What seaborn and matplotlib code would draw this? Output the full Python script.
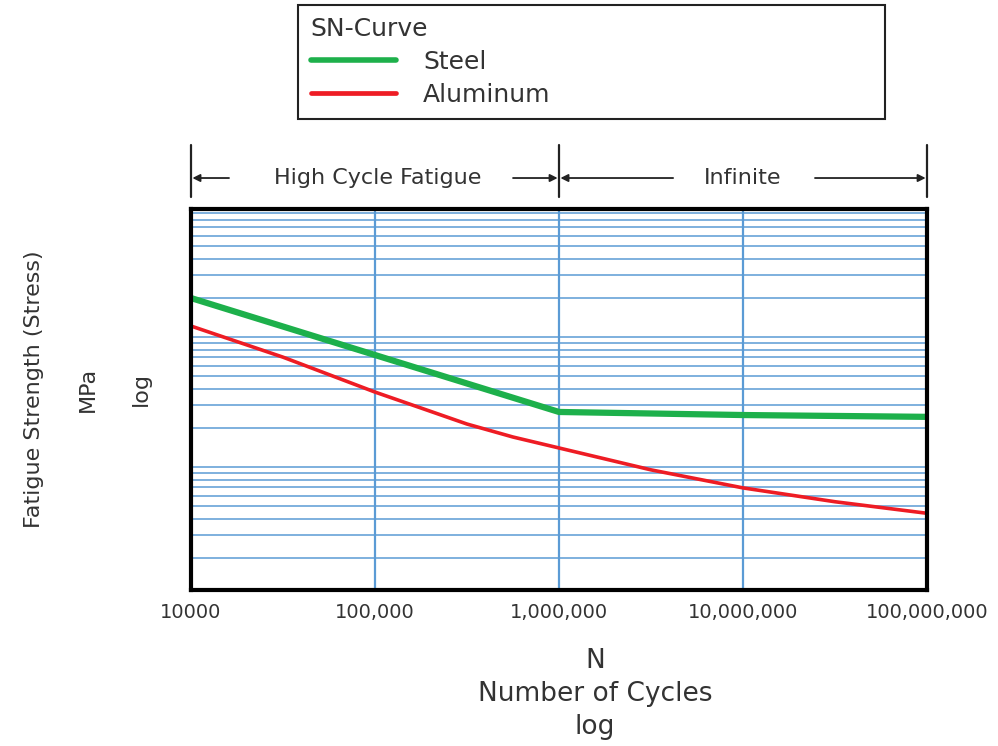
import numpy as np
import pandas as pd
import matplotlib
matplotlib.use('Agg')
import matplotlib.pyplot as plt
from matplotlib import font_manager
from matplotlib.lines import Line2D
from matplotlib.ticker import LogLocator, NullFormatter, FixedLocator, NullLocator
import seaborn as sns

# ---------------- data ----------------
steel_cycles = [1e4, 1e5, 1e6, 1e7, 1e8]
steel_stress = [1995, 727, 265, 251, 243]
alu_cycles = [1e4, 3.16e4, 1e5, 1.78e5, 3.16e5, 5.62e5, 1e6, 3.16e6, 1e7, 3.16e7, 1e8]
alu_stress = [1215, 700, 377, 284, 214, 170, 140, 95, 69, 54, 44]
materials = ['Steel', 'Aluminum']
x_ticks = [1e4, 1e5, 1e6, 1e7, 1e8]
x_tick_labels = ['10000', '100,000', '1,000,000', '10,000,000', '100,000,000']
regions = ['High Cycle Fatigue', 'Infinite']
region_bounds = [1e4, 1e6, 1e8]
legend_title = 'SN-Curve'
x_label_lines = ['N', 'Number of Cycles', 'log']
y_label_lines = ['Fatigue Strength (Stress)', 'MPa', 'log']

df = pd.concat([
    pd.DataFrame({'N': steel_cycles, 'S': steel_stress, 'Material': 'Steel'}),
    pd.DataFrame({'N': alu_cycles, 'S': alu_stress, 'Material': 'Aluminum'}),
], ignore_index=True)

sns.set_style('white')
plt.rcParams['font.family'] = ['DejaVu Sans']


def pick(cands):
    for c in cands:
        try:
            font_manager.findfont(font_manager.FontProperties(family=c), fallback_to_default=False)
            return c
        except Exception:
            pass
    return None

narrow = pick(['Liberation Sans Narrow', 'DejaVu Sans Condensed'])
ylab_font = narrow if narrow else 'DejaVu Sans'
ylab_size = 22 if narrow == 'Liberation Sans Narrow' else (18 if narrow else 16)

TXT = '#333333'
GRID = '#5b9bd5'

fig = plt.figure(figsize=(9.98, 7.46), dpi=100)
ax = fig.add_axes([0.1914, 0.2091, 0.7375, 0.5107])

palette = {'Steel': '#1db04b', 'Aluminum': '#ee1c24'}
sizes = {'Steel': 4.5, 'Aluminum': 2.6}
sns.lineplot(data=df, x='N', y='S', hue='Material', size='Material',
             palette=palette, sizes=sizes, hue_order=materials, size_order=materials,
             estimator=None, sort=False, legend=False, ax=ax, zorder=5)

ax.set_xscale('log')
ax.set_yscale('log')

ax.xaxis.set_major_locator(FixedLocator(x_ticks))
ax.set_xticks(x_ticks, x_tick_labels)
ax.xaxis.set_minor_locator(NullLocator())
ax.yaxis.set_major_locator(LogLocator(base=10, numticks=20))
ax.yaxis.set_minor_locator(LogLocator(base=10, subs=np.arange(2, 10), numticks=20))
ax.yaxis.set_major_formatter(NullFormatter())
ax.yaxis.set_minor_formatter(NullFormatter())
ax.tick_params(axis='both', which='both', length=0)
ax.tick_params(axis='x', labelsize=14, pad=9, labelcolor=TXT)
ax.grid(True, which='major', axis='x', color=GRID, lw=1.6)
ax.grid(True, which='both', axis='y', color=GRID, lw=1.1)
for sp in ax.spines.values():
    sp.set_visible(True)
    sp.set_color('black')
    sp.set_linewidth(3)
    sp.set_zorder(6)
ax.set_xlabel('')
ax.set_ylabel('')

# region markers above the plot
trans = ax.get_xaxis_transform()
for b in region_bounds:
    ax.add_line(Line2D([b, b], [1.0315, 1.168], transform=trans, color='#222222',
                       lw=1.6, clip_on=False))

arrow_y = 1.0814
region_text_x = [10 ** 5.016, 10 ** 7.0]
region_arrow_starts = [(10 ** 4.2065, 10 ** 5.75), (10 ** 6.62, 10 ** 7.391)]
for i, lab in enumerate(regions):
    lo, hi = region_bounds[i], region_bounds[i + 1]
    a0, a1 = region_arrow_starts[i]
    ax.text(region_text_x[i], arrow_y, lab, transform=trans, ha='center', va='center',
            fontsize=16, color=TXT)
    for start, end in [(a0, lo), (a1, hi)]:
        ax.annotate('', xy=(end, arrow_y), xytext=(start, arrow_y), xycoords=trans,
                    textcoords=trans,
                    arrowprops=dict(arrowstyle='-|>', color='#222222', lw=1.3,
                                    mutation_scale=11, shrinkA=0, shrinkB=1))

ax.set_xlim(1e4, 1e8)
ax.set_ylim(11.3, 9660)

# legend
leg_lw = {'Steel': 4.0, 'Aluminum': 3.4}
handles = [Line2D([], [], color=palette[m], lw=leg_lw[m]) for m in materials]
leg = fig.legend(handles, materials, title=legend_title, loc='upper left',
                 bbox_to_anchor=(0.2986, 0.8391, 0.5882, 0.1542), mode='expand',
                 borderaxespad=0, fontsize=18, title_fontsize=18, alignment='left',
                 frameon=True, fancybox=False, edgecolor='#222222', framealpha=1,
                 handlelength=3.4, handletextpad=1.1, borderpad=0.5, labelspacing=0.35)
leg.get_frame().set_linewidth(1.5)
for t in leg.get_texts():
    t.set_color(TXT)
leg.get_title().set_color(TXT)

# x label lines
for y_px, line in zip([661, 694, 727], x_label_lines):
    fig.text(595 / 998, 1 - y_px / 746, line, ha='center', va='center', fontsize=19, color=TXT)

# y label lines
for x_px, line in zip([34, 88, 141], y_label_lines):
    fig.text(x_px / 998, 1 - 389 / 746, line, ha='center', va='center', rotation=90,
             fontsize=ylab_size, color=TXT, family=ylab_font)

fig.savefig('out.png', dpi=100)
